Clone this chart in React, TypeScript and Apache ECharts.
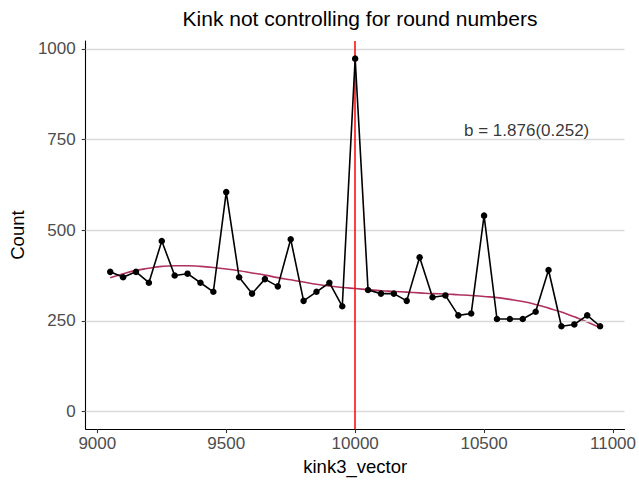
import React, { useEffect, useRef } from "react";
import * as echarts from "echarts";

const xValues = [
  9050, 9100, 9150, 9200, 9250, 9300, 9350, 9400, 9450, 9500,
  9550, 9600, 9650, 9700, 9750, 9800, 9850, 9900, 9950, 10000,
  10050, 10100, 10150, 10200, 10250, 10300, 10350, 10400, 10450, 10500,
  10550, 10600, 10650, 10700, 10750, 10800, 10850, 10900, 10950,
];
const counts = [
  385, 370, 385, 355, 470, 375, 380, 355, 330, 605,
  370, 325, 365, 345, 475, 305, 330, 355, 290, 973,
  335, 325, 325, 305, 425, 315, 320, 265, 270, 540,
  255, 255, 255, 275, 390, 235, 240, 265, 235,
];
const smoothFit = [
  369, 380, 389, 395, 400, 402, 402, 400, 397, 393,
  388, 382, 376, 369, 363, 357, 351, 346, 342, 339,
  336, 333, 331, 329, 327, 325, 324, 322, 320, 317,
  314, 309, 303, 295, 285, 274, 261, 247, 231,
];
const kinkX = 10000;
const xTicks = [9000, 9500, 10000, 10500, 11000];
const yTicks = [0, 250, 500, 750, 1000];
const xLimits = [8955, 11045];
const yLimits = [-48.65, 1021.65];
const annotation = { x: 10665, y: 775, text: "b = 1.876(0.252)" };
const titleText = "Kink not controlling for round numbers";
const xName = "kink3_vector";
const yName = "Count";

const FONT = "Liberation Sans, Arial, Helvetica, sans-serif";

export default function App() {
  const ref = useRef<HTMLDivElement>(null);
  useEffect(() => {
    if (!ref.current) return;
    const chart = echarts.init(ref.current, null, { renderer: "svg" });
    const pts = xValues.map((x, i) => [x, counts[i]]);
    const fit = xValues.map((x, i) => [x, smoothFit[i]]);
    chart.setOption({
      animation: false,
      backgroundColor: "#ffffff",
      textStyle: { fontFamily: FONT },
      title: {
        text: titleText,
        left: 355,
        top: 3,
        textAlign: "center",
        textStyle: { fontSize: 21, fontWeight: "normal", color: "#000", fontFamily: FONT },
      },
      grid: { left: 85.5, right: 14, top: 41, bottom: 50, containLabel: false },
      xAxis: {
        type: "value",
        min: xLimits[0],
        max: xLimits[1],
        name: xName,
        nameLocation: "middle",
        nameGap: 26,
        nameTextStyle: { fontSize: 18.5, color: "#000", fontFamily: FONT },
        axisLine: { show: true, onZero: false, lineStyle: { color: "#000", width: 1.1 } },
        axisTick: { show: true, length: 4, customValues: xTicks, lineStyle: { color: "#333", width: 1.1 } },
        axisLabel: {
          customValues: xTicks,
          formatter: (v: number) => String(v),
          fontSize: 17,
          color: "#4D4D4D",
          margin: 6,
          fontFamily: FONT,
        },
        splitLine: { show: false },
      },
      yAxis: {
        type: "value",
        min: yLimits[0],
        max: yLimits[1],
        name: yName,
        nameLocation: "middle",
        nameGap: 58,
        nameTextStyle: { fontSize: 18.5, color: "#000", fontFamily: FONT },
        axisLine: { show: true, onZero: false, lineStyle: { color: "#000", width: 1.1 } },
        axisTick: { show: true, length: 4, customValues: yTicks, lineStyle: { color: "#333", width: 1.1 } },
        axisLabel: {
          customValues: yTicks,
          formatter: (v: number) => String(v),
          fontSize: 17,
          color: "#4D4D4D",
          margin: 10,
          fontFamily: FONT,
        },
        splitLine: { show: false },
      },
      series: [
        {
          type: "line",
          data: [],
          silent: true,
          markLine: {
            silent: true,
            symbol: "none",
            label: { show: false },
            lineStyle: { color: "#D9D9D9", width: 1.4, type: "solid" },
            data: yTicks.map((v) => ({ yAxis: v })),
          },
        },
        {
          type: "line",
          data: fit,
          smooth: true,
          showSymbol: false,
          symbol: "none",
          lineStyle: { color: "#B03060", width: 1.6 },
          z: 3,
        },
        {
          type: "line",
          data: [],
          markLine: {
            silent: true,
            symbol: "none",
            label: { show: false },
            lineStyle: { color: "#FF0000", width: 1.5, type: "solid" },
            data: [{ xAxis: kinkX }],
          },
          z: 4,
        },
        {
          type: "line",
          data: pts,
          symbol: "circle",
          symbolSize: 6.5,
          showSymbol: true,
          itemStyle: { color: "#000" },
          lineStyle: { color: "#000", width: 1.6 },
          z: 5,
        },
        {
          type: "scatter",
          data: [[annotation.x, annotation.y]],
          symbolSize: 0,
          silent: true,
          label: {
            show: true,
            position: "inside",
            formatter: annotation.text,
            fontSize: 17,
            color: "#000",
            fontFamily: FONT,
          },
          z: 6,
        },
      ],
    });
    return () => chart.dispose();
  }, []);
  return (
    <div
      ref={ref}
      style={{ position: "absolute", left: 0, top: 0, width: 639, height: 481 }}
    />
  );
}
